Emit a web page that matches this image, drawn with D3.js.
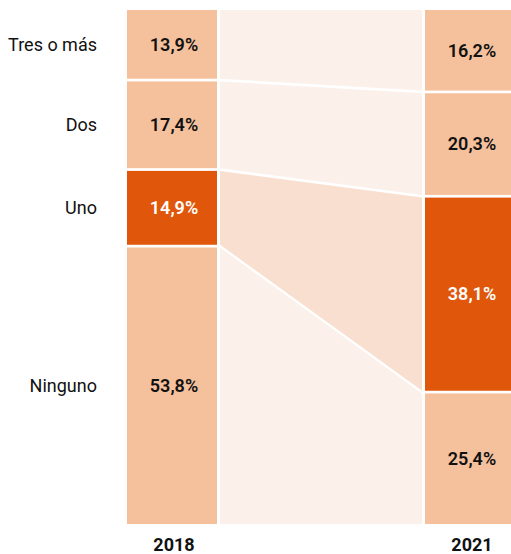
<!DOCTYPE html>
<html>
<head>
<meta charset="utf-8">
<script src="https://cdn.jsdelivr.net/npm/d3@7"></script>
<style>
  body { margin: 0; background: #fff; }
  text { font-family: Roboto, "Noto Sans", sans-serif; }
</style>
</head>
<body>
<div id="chart"></div>
<script>
var svgWidth = 511;
var svgHeight = 554;

// data
var categories = ["Tres o más", "Dos", "Uno", "Ninguno"];
var years = ["2018", "2021"];
var values2018 = [13.9, 17.4, 14.9, 53.8];
var values2021 = [16.2, 20.3, 38.1, 25.4];
var highlight = "Uno";

var gap = 2.7;
var barWidth = 90;

var svg = d3.select("#chart")
  .append("svg")
  .attr("width", svgWidth)
  .attr("height", svgHeight);

// bar left edges
var x = d3.scaleOrdinal()
  .domain(years)
  .range([127, 425]);

var y = d3.scaleLinear()
  .domain([0, 100])
  .range([10, 524]);

// stack the values from the top
function stack(vals) {
  var cum = 0;
  return vals.map(function(v, i) {
    var d = { cat: categories[i], value: v, y0: cum, y1: cum + v, last: i === vals.length - 1 };
    cum += v;
    return d;
  });
}

var s2018 = stack(values2018);
var s2021 = stack(values2021);

function segTop(d) { return y(d.y0); }
function segBottom(d) { return d.last ? y(d.y1) : y(d.y1) - gap; }

// connecting bands
var bandLeft = x("2018") + barWidth + 3;
var bandRight = x("2021") - 3;

svg.append("g").selectAll("path")
  .data(d3.range(categories.length))
  .enter()
  .append("path")
  .attr("d", function(i) {
    var a = s2018[i], b = s2021[i];
    return "M" + bandLeft + "," + segTop(a) +
      "L" + bandRight + "," + segTop(b) +
      "L" + bandRight + "," + segBottom(b) +
      "L" + bandLeft + "," + segBottom(a) + "Z";
  })
  .attr("fill", function(i) { return categories[i] === highlight ? "#f9dfd0" : "#fcf0ea"; });

// bars
var bars = [{ year: "2018", segs: s2018 }, { year: "2021", segs: s2021 }];

bars.forEach(function(b) {
  var g = svg.append("g");
  g.selectAll("rect")
    .data(b.segs)
    .enter()
    .append("rect")
    .attr("x", x(b.year))
    .attr("y", segTop)
    .attr("width", barWidth)
    .attr("height", function(d) { return segBottom(d) - segTop(d); })
    .attr("fill", function(d) { return d.cat === highlight ? "#e0570b" : "#f5c09c"; });

  g.selectAll("text")
    .data(b.segs)
    .enter()
    .append("text")
    .attr("x", x(b.year) + barWidth / 2 + 2)
    .attr("y", function(d) { return (segTop(d) + segBottom(d)) / 2; })
    .attr("dy", "0.35em")
    .attr("text-anchor", "middle")
    .attr("font-size", "18px")
    .attr("font-weight", 600)
    .attr("fill", function(d) { return d.cat === highlight ? "#fff" : "#111"; })
    .text(function(d) { return d3.format(".1f")(d.value).replace(".", ",") + "%"; });

  svg.append("text")
    .attr("x", x(b.year) + barWidth / 2 + 2)
    .attr("y", 551)
    .attr("text-anchor", "middle")
    .attr("font-size", "18px")
    .attr("font-weight", 700)
    .attr("fill", "#111")
    .text(b.year);
});

// category labels
svg.append("g").selectAll("text")
  .data(s2018)
  .enter()
  .append("text")
  .attr("x", 97)
  .attr("y", function(d) { return (segTop(d) + segBottom(d)) / 2; })
  .attr("dy", "0.35em")
  .attr("text-anchor", "end")
  .attr("font-size", "18px")
  .attr("fill", "#111")
  .text(function(d) { return d.cat; });
</script>
</body>
</html>
